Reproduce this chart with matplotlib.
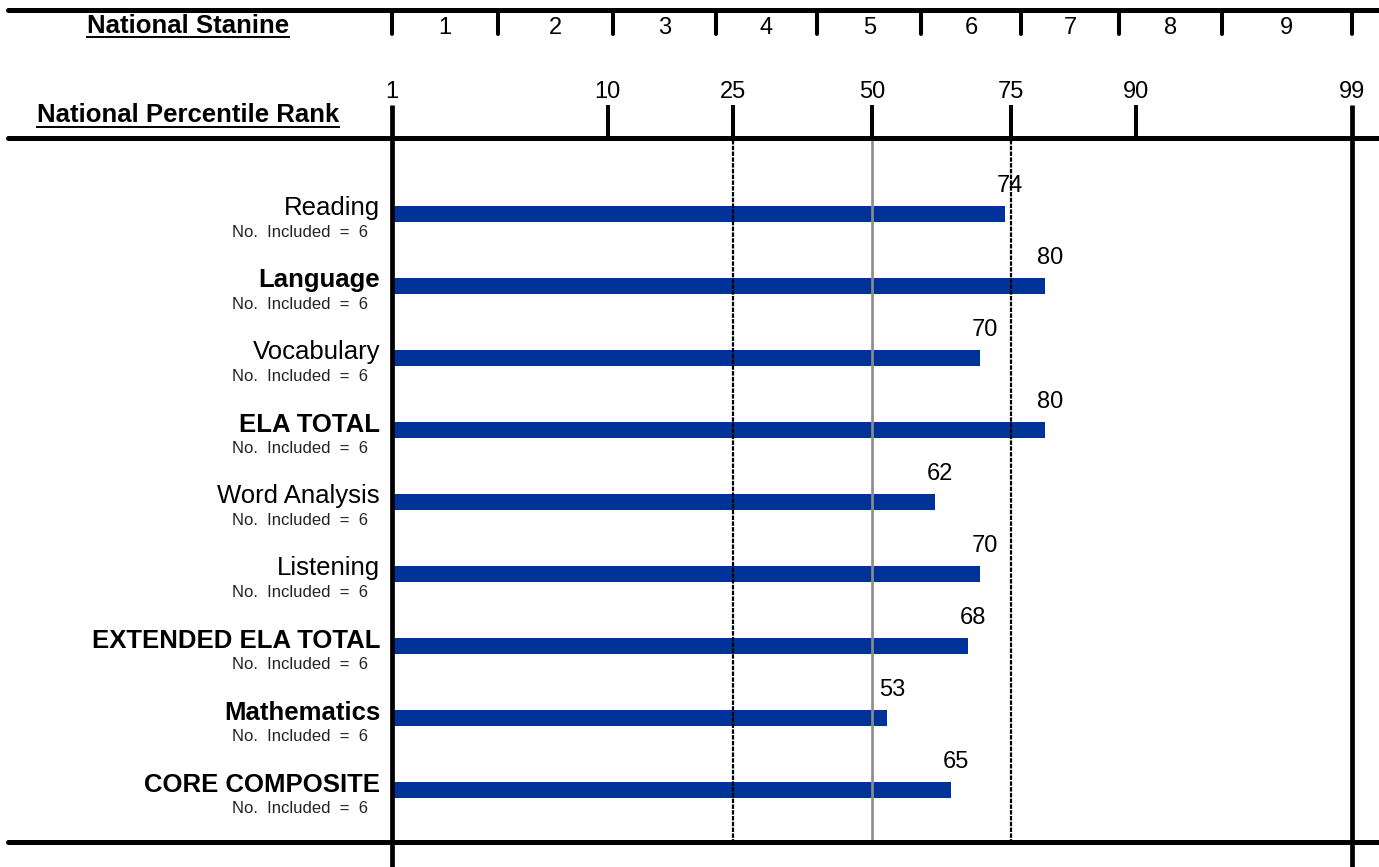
"""
National percentile rank profile: horizontal bars on a normal-curve
(probit) percentile scale, with the stanine bands shown above.
"""

import math

import matplotlib
matplotlib.use("Agg")
import matplotlib.pyplot as plt
import numpy as np
from matplotlib.lines import Line2D
from matplotlib.transforms import blended_transform_factory

plt.rcParams["font.family"] = ["Liberation Sans", "DejaVu Sans"]

# --- data -------------------------------------------------------------------
categories = ["Reading", "Language", "Vocabulary", "ELA TOTAL", "Word Analysis",
              "Listening", "EXTENDED ELA TOTAL", "Mathematics", "CORE COMPOSITE"]
bold_rows = [False, True, False, True, False, False, True, True, True]
percentiles = [74, 80, 70, 80, 62, 70, 68, 53, 65]
n_included = [6, 6, 6, 6, 6, 6, 6, 6, 6]
pr_ticks = [1, 10, 25, 50, 75, 90, 99]
stanine_bounds = [1, 3.5, 10.5, 22.5, 39.5, 59.5, 76.5, 88.5, 95.5, 99]
stanine_labels = ["1", "2", "3", "4", "5", "6", "7", "8", "9"]

BAR_COLOR = "#003399"

# --- normal-curve scale -----------------------------------------------------
_erf = np.vectorize(math.erf, otypes=[float])


def z_to_pr(z):
    z = np.asarray(z, dtype=float)
    return 100.0 * 0.5 * (1.0 + _erf(z / math.sqrt(2.0)))


def pr_to_z(p):
    p = np.clip(np.asarray(p, dtype=float), 1e-7, 100 - 1e-7)
    lo = np.full_like(p, -8.0)
    hi = np.full_like(p, 8.0)
    for _ in range(60):
        mid = 0.5 * (lo + hi)
        below = z_to_pr(mid) < p
        lo = np.where(below, mid, lo)
        hi = np.where(below, hi, mid)
    return 0.5 * (lo + hi)


# --- layout (pixels) --------------------------------------------------------
W, H = 1379, 867
X_LEFT, X_RIGHT = 392, 1351.7
ROW0, STEP = 214, 72


def fy(px):
    return 1 - px / H


fig = plt.figure(figsize=(W / 100, H / 100), dpi=100)
ax = fig.add_axes([X_LEFT / W, 0, (X_RIGHT - X_LEFT) / W, 1])
ax.set_xscale("function", functions=(pr_to_z, z_to_pr))
ax.set_xlim(1, 99)
ax.set_ylim((H - ROW0) / STEP, -ROW0 / STEP)
ax.axis("off")

trans = blended_transform_factory(ax.transData, fig.transFigure)

# horizontal rules
for ypx in (10, 138, 842):
    fig.add_artist(Line2D([8 / W, 1378 / W], [fy(ypx)] * 2, lw=3.6,
                          color="black", solid_capstyle="round"))

# stanine ticks and labels
for b in stanine_bounds:
    ax.plot([b, b], [fy(12), fy(34)], transform=trans, color="black",
            lw=2.9, solid_capstyle="round", clip_on=False)
zb = pr_to_z(stanine_bounds)
for i, lab in enumerate(stanine_labels):
    xm = float(z_to_pr(0.5 * (zb[i] + zb[i + 1])))
    ax.text(xm, fy(34), lab, transform=trans, ha="center", va="baseline",
            fontsize=17)

# percentile ticks and labels
for p in pr_ticks:
    top = 105
    bottom = 867 if p in (1, 99) else 138
    ax.plot([p, p], [fy(top), fy(bottom)], transform=trans, color="black",
            lw=3.4 if p in (1, 99) else 2.9, solid_capstyle="butt",
            clip_on=False, zorder=4)
    ax.text(p, fy(98.3), str(p), transform=trans, ha="center", va="baseline",
            fontsize=17)

# reference lines at 25 / 50 / 75
for p in (25, 75):
    ax.plot([p, p], [fy(140), fy(842)], transform=trans, color="black",
            lw=1.6, linestyle=(0, (2, 0.6)), clip_on=False, zorder=3)
ax.plot([50, 50], [fy(140), fy(842)], transform=trans, color="#8c8c8c",
        lw=1.9, clip_on=False, zorder=3)

# bars
rows = np.arange(len(categories))
ax.barh(rows, [v - 1 for v in percentiles], left=1, height=15.5 / STEP,
        color=BAR_COLOR, zorder=2)

for i, v in enumerate(percentiles):
    ax.annotate(str(v), xy=(v, i), xytext=(5, 22), textcoords="offset pixels",
                ha="center", va="baseline", fontsize=17, zorder=5)

# row labels
for i, (name, bold, k) in enumerate(zip(categories, bold_rows, n_included)):
    ax.annotate(name, xy=(0, i), xycoords=("axes fraction", "data"),
                xytext=(-12, -1.5), textcoords="offset pixels",
                ha="right", va="baseline", fontsize=18.5,
                fontweight="bold" if bold else "normal")
    ax.annotate(f"No.  Included  =  {k}", xy=(0, i),
                xycoords=("axes fraction", "data"),
                xytext=(-24, -23), textcoords="offset pixels",
                ha="right", va="baseline", fontsize=12, color="#222222")

# headers with underline
h1 = fig.text(188 / W, fy(33.3), "National Stanine", ha="center",
              va="baseline", fontsize=18.5, fontweight="bold")
h2 = fig.text(188 / W, fy(122.5), "National Percentile Rank", ha="center",
              va="baseline", fontsize=18.5, fontweight="bold")
fig.canvas.draw()
renderer = fig.canvas.get_renderer()
for t, ypx in ((h1, 37), (h2, 126.5)):
    bb = t.get_window_extent(renderer)
    fig.add_artist(Line2D([bb.x0 / W, bb.x1 / W], [fy(ypx)] * 2, lw=1.4,
                          color="black"))

fig.savefig("out.png", dpi=100)
plt.close(fig)
